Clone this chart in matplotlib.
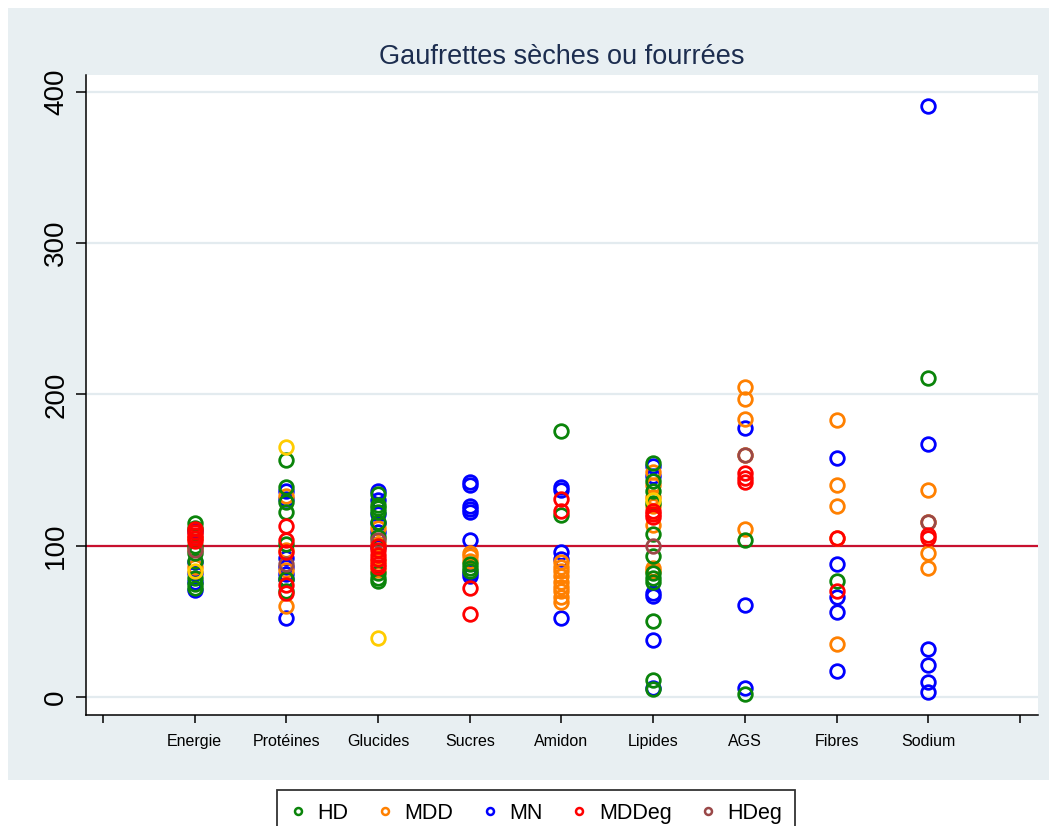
import matplotlib.pyplot as plt
from matplotlib.patches import Rectangle

# Categories on the x axis (positions 1..9, 0 and 10 are empty ticks)
categories = ["Energie", "Protéines", "Glucides", "Sucres", "Amidon",
              "Lipides", "AGS", "Fibres", "Sodium"]

# One list of values per category, for each group
hd_values = [
    [115, 112, 100, 95, 90, 79, 75, 72],
    [157, 139, 129, 122, 101, 78, 70],
    [134, 127, 125, 122, 116, 106, 82, 79, 77],
    [88, 85, 83],
    [176, 120],
    [155, 143, 136, 128, 108, 93, 82, 79, 76, 50, 11, 5],
    [104, 2],
    [77],
    [211],
]
mdd_values = [
    [105, 98, 86],
    [133, 97, 84, 60],
    [112, 101, 90, 84],
    [95, 93, 90],
    [89, 86, 83, 80, 76, 73, 70, 66, 63],
    [149, 140, 132, 126, 114, 85, 83],
    [205, 197, 184, 160, 111],
    [183, 140, 126, 105, 35],
    [137, 116, 95, 85],
]
mn_values = [
    [110, 89, 82, 76, 71],
    [136, 131, 92, 86, 81, 78, 52],
    [136, 130, 121, 115, 109, 99],
    [142, 140, 126, 124, 122, 104, 82, 80],
    [139, 137, 96, 91, 52],
    [153, 146, 69, 67, 38, 6],
    [178, 61, 6],
    [158, 88, 66, 56, 17],
    [391, 167, 32, 21, 10, 3],
]
mddeg_values = [
    [111, 109, 107, 105, 103],
    [113, 104, 96, 74, 69],
    [100, 97, 94, 91, 88, 86],
    [72, 55],
    [131, 123],
    [123, 121, 119],
    [148, 145, 142],
    [105, 70],
    [107, 105],
]
hdeg_values = [
    [97],
    [88],
    [104],
    [],
    [],
    [100],
    [160],
    [],
    [116],
]
# extra yellow points that have no legend entry
other_values = [
    [83],
    [165],
    [39],
    [],
    [],
    [130],
    [],
    [],
    [],
]

# drawing order: first drawn ends up at the back
series = [
    (mn_values, "#0000ff", "MN"),
    (mdd_values, "#ff8000", "MDD"),
    (hd_values, "#0a840a", "HD"),
    (other_values, "#ffcc00", None),
    (hdeg_values, "#9a4848", "HDeg"),
    (mddeg_values, "#ff0000", "MDDeg"),
]

W, H = 1049, 826
plt.rcParams['font.family'] = ['Liberation Sans', 'DejaVu Sans']
fig = plt.figure(figsize=(W / 100, H / 100), dpi=100)

# light grey-blue backdrop behind the plot region
fig.patches.append(Rectangle((8 / W, 1 - 780 / H), 1 - 8 / W, (780 - 8) / H,
                             transform=fig.transFigure, facecolor="#e8eff2",
                             edgecolor="none", zorder=-5))

ax = fig.add_axes([86 / W, 1 - 715 / H, (1038 - 86) / W, (715 - 75) / H])
ax.set_zorder(2)
ax.set_facecolor("white")

handles = {}
for values, color, label in series:
    xs, ys = [], []
    for i, vals in enumerate(values):
        xs += [i + 1] * len(vals)
        ys += vals
    ax.plot(xs, ys, linestyle="none", marker="o", markersize=9.8,
            markerfacecolor="none", markeredgecolor=color,
            markeredgewidth=2.0, zorder=3)
    if label:
        handles[label] = color

ax.axhline(100, color="#c8102e", linewidth=1.6, zorder=2)

for v in range(0, 401, 100):
    ax.axhline(v, color="#e3ebef", linewidth=1.6, zorder=1)

ax.set_xlim(-0.185, 10.196)
ax.set_ylim(-11.9, 411.2)

ax.set_xticks(range(0, 11))
ax.set_xticklabels([""] + categories + [""], fontsize=11.5)
ax.set_yticks(range(0, 401, 100))
ax.set_yticklabels([str(v) for v in range(0, 401, 100)], fontsize=20,
                   rotation=90, va="center")

ax.tick_params(axis="y", length=7, width=1.1, pad=5)
ax.tick_params(axis="x", length=5.5, width=1.1, pad=8)

for side in ["top", "right"]:
    ax.spines[side].set_visible(False)
for side in ["left", "bottom"]:
    ax.spines[side].set_linewidth(1.1)
    ax.spines[side].set_color("black")

fig.text(562 / W, 1 - 57 / H, "Gaufrettes sèches ou fourrées",
         ha="center", va="center", fontsize=19.5, color="#1c2d4f")

# legend below the plot, partly cut by the bottom edge
order = ["HD", "MDD", "MN", "MDDeg", "HDeg"]
legend_handles = [plt.Line2D([], [], linestyle="none", marker="o",
                             markersize=5, markerfacecolor="none",
                             markeredgecolor=handles[k], markeredgewidth=1.8)
                  for k in order]
leg = fig.legend(legend_handles, order, loc="upper center",
                 bbox_to_anchor=(536 / W, 1 - 790 / H), borderaxespad=0,
                 ncol=5, fontsize=15.5, frameon=True, fancybox=False,
                 handlelength=0.8, handletextpad=0.5, columnspacing=1.3,
                 borderpad=0.6)
leg.get_frame().set_edgecolor("black")
leg.get_frame().set_linewidth(1.3)

fig.savefig("out.png", dpi=100, facecolor="white")
